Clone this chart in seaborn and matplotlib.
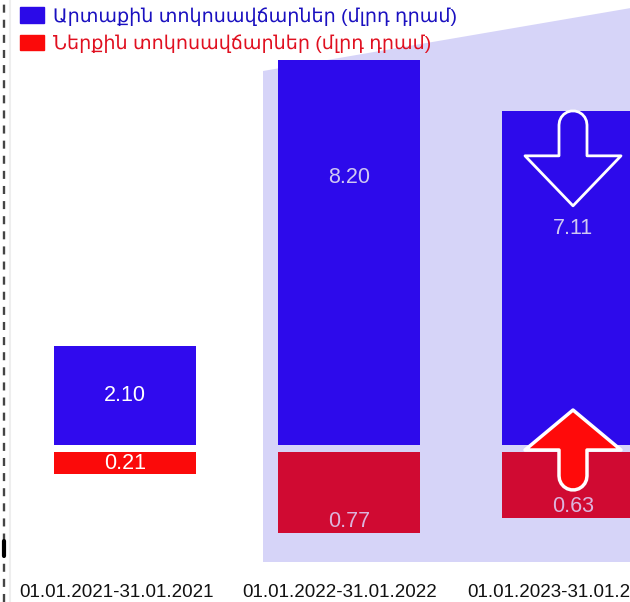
import numpy as np
import matplotlib
matplotlib.use("Agg")
import matplotlib.pyplot as plt
import matplotlib.patches as mpatches
import matplotlib.transforms as mtransforms
from matplotlib.lines import Line2D
import seaborn as sns

# Տվյալներ (մլրդ դրամ)
periods = ["01.01.2021-31.01.2021", "01.01.2022-31.01.2022", "01.01.2023-31.01.2023"]
external = [2.10, 8.20, 7.11]
internal = [0.21, 0.77, 0.63]

legend_labels = ["Արտաքին տոկոսավճարներ (մլրդ դրամ)", "Ներքին տոկոսավճարներ (մլրդ դրամ)"]

blue_colors = ["#300aee", "#2d0aeb", "#2d0aeb"]
red_colors = ["#fb0a0a", "#d00a32", "#d00a32"]
blue_text = ["#ffffff", "#cfc8f2", "#cfc8f2"]
red_text = ["#ffffff", "#dcb4dc", "#dcb4dc"]

sns.set_style("white")
plt.rcParams["font.family"] = ["Liberation Sans", "DejaVu Sans"]

W, H = 630, 602
fig = plt.figure(figsize=(W / 100, H / 100), dpi=100)
fig.patch.set_facecolor("white")


def frac(x, y, w, h):
    # pixel box (from top-left) -> figure fraction
    return [x / W, 1 - (y + h) / H, w / W, h / H]


ax_top = fig.add_axes(frac(13, 0, 672, 445))
ax_bot = fig.add_axes(frac(13, 452, 672, 120))
ax_top.set_zorder(2)

# fon
bg = mpatches.Polygon([(263 / W, 1 - 71 / H), (1.02, 1 - 6 / H), (1.02, 1 - 562 / H), (263 / W, 1 - 562 / H)],
                      closed=True, transform=fig.transFigure, facecolor="#d6d4f8", edgecolor="none", zorder=-5)
fig.patches.append(bg)
fig.lines.append(Line2D([10 / W, 10 / W], [0, 1], transform=fig.transFigure, color="#eeeeee", lw=1.5, zorder=-4))
fig.lines.append(Line2D([3.5 / W, 3.5 / W], [0, 1], transform=fig.transFigure, color="#444444", lw=1.7,
                        dashes=(3.4, 3.0), zorder=-3))
fig.lines.append(Line2D([4 / W, 4 / W], [1 - 556 / H, 1 - 541 / H], transform=fig.transFigure,
                        color="#000000", lw=3, zorder=-3))

for ax in (ax_top, ax_bot):
    ax.patch.set_alpha(0)

sns.barplot(x=periods, y=external, hue=periods, palette=blue_colors, legend=False,
            width=0.63, saturation=1, linewidth=0, ax=ax_top)
sns.barplot(x=periods, y=internal, hue=periods, palette=red_colors, legend=False,
            width=0.63, saturation=1, linewidth=0, ax=ax_bot)

ax_top.set_ylim(0, 445 / 47)
ax_bot.set_ylim(120 / 105, 0)
for ax in (ax_top, ax_bot):
    ax.set_xlim(-0.5, 2.5)
    sns.despine(ax=ax, left=True, bottom=True)
    ax.set_yticks([])
    ax.set_ylabel("")
    ax.set_xlabel("")
ax_top.set_xticks([])
ax_bot.tick_params(axis="x", length=0, pad=8.5, labelsize=13.5, labelcolor="#111111")
shift = mtransforms.ScaledTranslation(-9 / 100, 0, fig.dpi_scale_trans)
for lbl in ax_bot.get_xticklabels():
    lbl.set_transform(lbl.get_transform() + shift)

for i, v in enumerate(external):
    ax_top.text(i, max(v / 2, v - 2.5), f"{v:.2f}", ha="center", va="center",
                fontsize=15.5, color=blue_text[i])
for i, v in enumerate(internal):
    ax_bot.text(i, max(v - 0.11, v / 2), f"{v:.2f}", ha="center", va="center",
                fontsize=15.5, color=red_text[i])


def arrow_at(ax, xd, yd, pts, **kw):
    tr = mtransforms.Affine2D().scale(1 / 100) + fig.dpi_scale_trans + \
        mtransforms.ScaledTranslation(xd, yd, ax.transData)
    p = mpatches.Polygon(pts, closed=True, transform=tr, clip_on=False, joinstyle="round", **kw)
    ax.add_patch(p)


arc = [(14 * np.cos(t), 14 * np.sin(t)) for t in np.linspace(np.pi, 0, 12)]
down_pts = [(-14, -45)] + [(x, y - 14) for x, y in arc] + [(14, -45), (48, -45), (0, -95), (-48, -45)]
up_pts = [(-14, -5)] + [(x, -y - 31) for x, y in arc] + [(14, -5), (48, -5), (0, 35), (-48, -5)]

arrow_at(ax_top, 2, external[2], down_pts, facecolor=blue_colors[2], edgecolor="white", lw=2, zorder=5)
arrow_at(ax_top, 2, 0, up_pts, facecolor="#ff0a0a", edgecolor="white", lw=2.5, zorder=6)

handles = [mpatches.Patch(color="#2b0ae8"), mpatches.Patch(color="#fb0a0a")]
fig.legend(handles, legend_labels, loc="upper left", bbox_to_anchor=(20 / W, 1 - 7 / H),
           frameon=False, fontsize=13.8, handlelength=1.25, handleheight=0.85,
           handletextpad=0.45, labelspacing=0.45, borderpad=0, borderaxespad=0,
           labelcolor=["#1a10c0", "#e01020"])

fig.savefig("out.png", dpi=100)
